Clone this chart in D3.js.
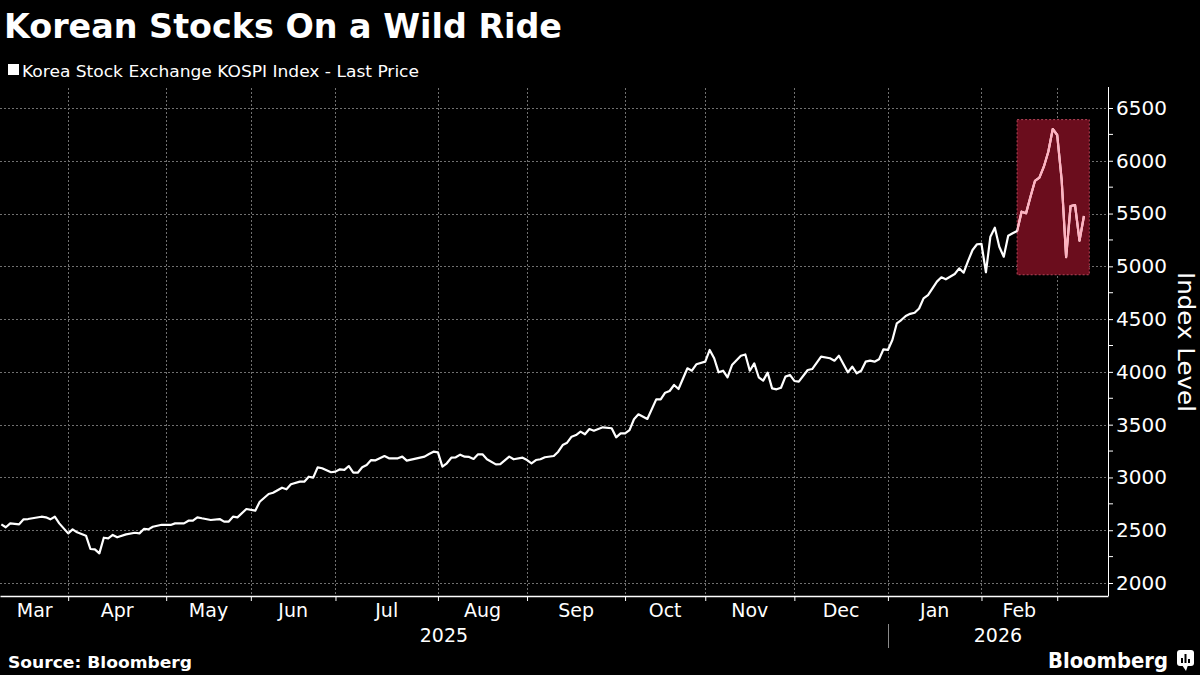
<!DOCTYPE html>
<html>
<head>
<meta charset="utf-8">
<script src="https://cdn.jsdelivr.net/npm/d3@7"></script>
<style>
  body { margin: 0; background: #000; }
  svg text { font-family: "DejaVu Sans", sans-serif; fill: #fff; }
</style>
</head>
<body>
<svg id="chart" width="1200" height="675"></svg>
<script>
// Data: KOSPI close, keyed by trading-day index (0 = first day shown, Mar 2025)
const tradingDay = [
  0, 1, 2, 4, 5, 6, 9, 10, 11, 12, 13, 15, 16, 17, 19, 20, 21, 22, 23, 24, 25, 26, 28, 30, 31, 32, 33, 34, 36, 38,
  39, 41, 42, 43, 44, 45, 47, 49, 50, 51, 52, 53, 55, 57, 58, 60, 61, 63, 64, 65, 67, 68, 69, 70, 71, 72, 74, 75, 76, 77,
  78, 79, 80, 81, 82, 83, 84, 86, 87, 89, 90, 91, 95, 96, 97, 98, 99, 100, 101, 102, 103, 104, 105, 106, 107, 108, 109, 111, 112, 114,
  115, 117, 118, 119, 120, 121, 122, 124, 125, 126, 127, 128, 129, 130, 131, 132, 133, 135, 137, 138, 139, 140, 141, 142, 143, 145, 147, 148, 149, 150,
  151, 152, 154, 155, 156, 158, 159, 160, 161, 162, 163, 164, 166, 167, 168, 169, 170, 171, 172, 173, 174, 175, 176, 177, 178, 179, 181, 182, 184, 186,
  187, 188, 190, 191, 192, 193, 194, 195, 196, 197, 198, 199, 200, 201, 202, 203, 204, 205, 206, 207, 208, 209, 210, 211, 212, 214, 215, 216, 217, 218,
  219, 220, 221, 222, 223, 224, 225, 226, 227, 228, 229, 230, 231, 232, 233, 234, 235, 236, 237, 238, 239, 240, 241, 242, 243
];
const kospi = [
  2556, 2528, 2565, 2556, 2603, 2606, 2628, 2622, 2603, 2628, 2565, 2470, 2508, 2480, 2448, 2322, 2319, 2281, 2429, 2423, 2455, 2433, 2461, 2476, 2470, 2512, 2508, 2533, 2552, 2550,
  2565, 2565, 2590, 2590, 2622, 2613, 2597, 2606, 2581, 2581, 2628, 2622, 2701, 2685, 2770, 2843, 2855, 2903, 2888, 2935, 2960, 2960, 3007, 2998, 3096, 3087, 3049, 3055, 3077, 3071,
  3108, 3045, 3045, 3096, 3118, 3165, 3162, 3203, 3181, 3181, 3197, 3159, 3197, 3222, 3244, 3238, 3102, 3134, 3187, 3191, 3216, 3197, 3194, 3175, 3219, 3219, 3172, 3124, 3127, 3197,
  3172, 3187, 3165, 3134, 3165, 3172, 3191, 3203, 3244, 3307, 3329, 3386, 3402, 3434, 3409, 3459, 3443, 3475, 3466, 3380, 3418, 3418, 3449, 3551, 3598, 3554, 3740, 3740, 3803, 3819,
  3876, 3838, 4034, 4011, 4072, 4097, 4208, 4129, 3996, 4011, 3949, 4065, 4153, 4165, 4011, 4081, 3949, 3917, 3993, 3844, 3835, 3850, 3955, 3971, 3914, 3907, 4018, 4027, 4144, 4129,
  4106, 4153, 3996, 4049, 3987, 4011, 4097, 4106, 4097, 4119, 4214, 4208, 4302, 4460, 4491, 4530, 4550, 4560, 4600, 4697, 4728, 4792, 4855, 4896, 4877, 4927, 4981, 4940, 5051, 5155,
  5209, 5212, 4944, 5281, 5366, 5186, 5091, 5290, 5313, 5335, 5518, 5502, 5660, 5809, 5840, 5944, 6086, 6301, 6244, 5818, 5086, 5572, 5581, 5243, 5477
];

// Axis data
const monthLabels = ['Mar', 'Apr', 'May', 'Jun', 'Jul', 'Aug', 'Sep', 'Oct', 'Nov', 'Dec', 'Jan', 'Feb'];
const monthTradingDays = [15, 22, 19, 19, 23, 20, 22, 18, 20, 21, 21, 17];
const yearLabels = ['2025', '2026'];
const yearStartMonth = [0, 10];
const axisDayRange = [-0.3, 248.4];
const yTicks = [2000, 2500, 3000, 3500, 4000, 4500, 5000, 5500, 6000, 6500];
const yMinorTicks = [2250, 2750, 3250, 3750, 4250, 4750, 5250, 5750, 6250, 6750];
const yDomain = [2000, 6500];

// Highlighted window
const highlightDays = [228, 244.2];
const highlightValues = [4920, 6390];

// Layout
const LAYOUT = {
    plotLeft: 0,
    plotRight: 1108,
    plotTop: 81,
    plotBottom: 596,
    yTop: 108,
    yBottom: 583
};

const svg = d3.select('#chart');

svg.append('rect').attr('width', 1200).attr('height', 675).attr('fill', '#000');

const x = d3.scaleLinear().domain(axisDayRange).range([LAYOUT.plotLeft, LAYOUT.plotRight]);
const y = d3.scaleLinear().domain(yDomain).range([LAYOUT.yBottom, LAYOUT.yTop]);

// month boundaries (first trading day of each month)
const monthStarts = [];
monthTradingDays.reduce((acc, n) => { monthStarts.push(acc); return acc + n; }, 0);
const monthEnds = monthStarts.map((s, i) => s + monthTradingDays[i]);
const monthTicks = monthStarts.slice(1).concat([monthEnds[monthEnds.length - 1]]);

/**
 * Header: title and legend
 */
function drawHeader() {
    svg.append('text')
        .attr('x', 4).attr('y', 38)
        .attr('font-size', 34).attr('font-weight', 'bold')
        .attr('textLength', 558).attr('lengthAdjust', 'spacingAndGlyphs')
        .text('Korean Stocks On a Wild Ride');

    svg.append('rect')
        .attr('x', 8).attr('y', 64).attr('width', 11).attr('height', 11)
        .attr('fill', '#fff');

    svg.append('text')
        .attr('x', 22).attr('y', 77)
        .attr('font-size', 16)
        .attr('textLength', 397).attr('lengthAdjust', 'spacingAndGlyphs')
        .text('Korea Stock Exchange KOSPI Index - Last Price');
}

/**
 * Dashed grid lines
 */
function drawGrid() {
    const grid = svg.append('g')
        .attr('stroke', '#707070')
        .attr('stroke-width', 1)
        .attr('stroke-dasharray', '2,2');

    grid.selectAll('.h').data(yTicks).join('line')
        .attr('x1', LAYOUT.plotLeft).attr('x2', LAYOUT.plotRight)
        .attr('y1', d => Math.round(y(d)) + 0.5).attr('y2', d => Math.round(y(d)) + 0.5);

    grid.selectAll('.v').data(monthTicks).join('line')
        .attr('x1', d => Math.round(x(d)) + 0.5).attr('x2', d => Math.round(x(d)) + 0.5)
        .attr('y1', 88).attr('y2', LAYOUT.plotBottom);
}

/**
 * Highlight box behind the recent swing
 */
function drawHighlight() {
    svg.append('rect')
        .attr('x', x(highlightDays[0]))
        .attr('y', y(highlightValues[1]))
        .attr('width', x(highlightDays[1]) - x(highlightDays[0]))
        .attr('height', y(highlightValues[0]) - y(highlightValues[1]))
        .attr('fill', '#6b0d1d')
        .attr('stroke', '#b8455a')
        .attr('stroke-width', 1)
        .attr('stroke-dasharray', '2,2');

    svg.append('clipPath').attr('id', 'hl-clip')
        .append('rect')
        .attr('x', x(highlightDays[0]))
        .attr('y', 0)
        .attr('width', x(highlightDays[1]) - x(highlightDays[0]))
        .attr('height', 675);
}

/**
 * Price line
 */
function drawLine() {
    const points = tradingDay.map((d, i) => ({ day: d, value: kospi[i] }));
    const line = d3.line()
        .x(d => x(d.day))
        .y(d => y(d.value));

    svg.append('path')
        .datum(points)
        .attr('fill', 'none')
        .attr('stroke', '#fff')
        .attr('stroke-width', 2.2)
        .attr('stroke-linejoin', 'round')
        .attr('d', line);

    svg.append('path')
        .datum(points)
        .attr('fill', 'none')
        .attr('stroke', '#ffb1bf')
        .attr('stroke-width', 2.2)
        .attr('stroke-linejoin', 'round')
        .attr('clip-path', 'url(#hl-clip)')
        .attr('d', line);
}

/**
 * Right value axis with minor ticks
 */
function drawYAxis() {
    const g = svg.append('g').attr('transform', `translate(${LAYOUT.plotRight},0)`);

    g.append('line')
        .attr('x1', 0.5).attr('x2', 0.5)
        .attr('y1', 87).attr('y2', LAYOUT.plotBottom)
        .attr('stroke', '#fff');

    const axis = d3.axisRight(y)
        .tickValues(yTicks)
        .tickFormat(d3.format('d'))
        .tickSize(5).tickPadding(3).tickSizeOuter(0);
    g.call(axis);
    g.select('.domain').remove();
    g.selectAll('.tick line').attr('stroke', '#fff');
    g.selectAll('.tick text')
        .attr('fill', '#fff')
        .attr('font-size', 20)
        .attr('font-family', '"DejaVu Sans", sans-serif');

    g.selectAll('.minor').data(yMinorTicks.filter(v => y(v) >= 87)).join('line')
        .attr('x1', 0).attr('x2', 5)
        .attr('y1', d => y(d)).attr('y2', d => y(d))
        .attr('stroke', '#fff');

    svg.append('text')
        .attr('transform', `translate(1178,342) rotate(90)`)
        .attr('text-anchor', 'middle')
        .attr('font-size', 23)
        .attr('textLength', 140).attr('lengthAdjust', 'spacingAndGlyphs')
        .text('Index Level');
}

/**
 * Bottom time axis: month ticks, month labels, years
 */
function drawXAxis() {
    const g = svg.append('g').attr('transform', `translate(0,${LAYOUT.plotBottom})`);

    const axis = d3.axisBottom(x)
        .tickValues(monthTicks)
        .tickFormat('')
        .tickSize(5)
        .tickSizeOuter(0);
    g.call(axis);
    g.select('.domain').attr('stroke', '#fff').attr('stroke-width', 1.5);
    g.selectAll('.tick line').attr('stroke', '#fff');

    svg.selectAll('.month').data(monthLabels).join('text')
        .attr('x', (d, i) => (x(Math.max(monthStarts[i], axisDayRange[0])) + x(monthEnds[i])) / 2)
        .attr('y', 617)
        .attr('text-anchor', 'middle')
        .attr('font-size', 19)
        .text(d => d);

    const yearBounds = yearStartMonth.map((m, i) => [
        i === 0 ? x(axisDayRange[0]) : x(monthStarts[m]),
        i === yearStartMonth.length - 1 ? x(axisDayRange[1]) : x(monthStarts[yearStartMonth[i + 1]])
    ]);

    svg.selectAll('.year').data(yearLabels).join('text')
        .attr('x', (d, i) => (yearBounds[i][0] + yearBounds[i][1]) / 2)
        .attr('y', 642)
        .attr('text-anchor', 'middle')
        .attr('font-size', 19)
        .text(d => d);

    svg.selectAll('.year-sep').data(yearStartMonth.slice(1)).join('line')
        .attr('x1', m => Math.round(x(monthStarts[m])) + 0.5)
        .attr('x2', m => Math.round(x(monthStarts[m])) + 0.5)
        .attr('y1', 624).attr('y2', 648)
        .attr('stroke', '#8a8a8a');
}

/**
 * Footer: source and logo
 */
function drawFooter() {
    svg.append('text')
        .attr('x', 8).attr('y', 668)
        .attr('font-size', 16).attr('font-weight', 'bold')
        .attr('textLength', 184).attr('lengthAdjust', 'spacingAndGlyphs')
        .text('Source: Bloomberg');

    svg.append('text')
        .attr('x', 1048).attr('y', 668)
        .attr('font-size', 21).attr('font-weight', 'bold')
        .attr('textLength', 120).attr('lengthAdjust', 'spacingAndGlyphs')
        .text('Bloomberg');

    const logo = svg.append('g').attr('transform', 'translate(1177,650)');
    logo.append('rect').attr('width', 17).attr('height', 16).attr('rx', 3).attr('fill', '#fff');
    logo.append('path').attr('d', 'M5,15 L9,21 L11,15 Z').attr('fill', '#fff');
    [[4, 8, 2, 5], [7.5, 4, 2, 9], [11, 9, 2, 4]].forEach(b => {
        logo.append('rect').attr('x', b[0]).attr('y', b[1]).attr('width', b[2]).attr('height', b[3]).attr('fill', '#000');
    });
}

drawHeader();
drawGrid();
drawHighlight();
drawLine();
drawYAxis();
drawXAxis();
drawFooter();
</script>
</body>
</html>
